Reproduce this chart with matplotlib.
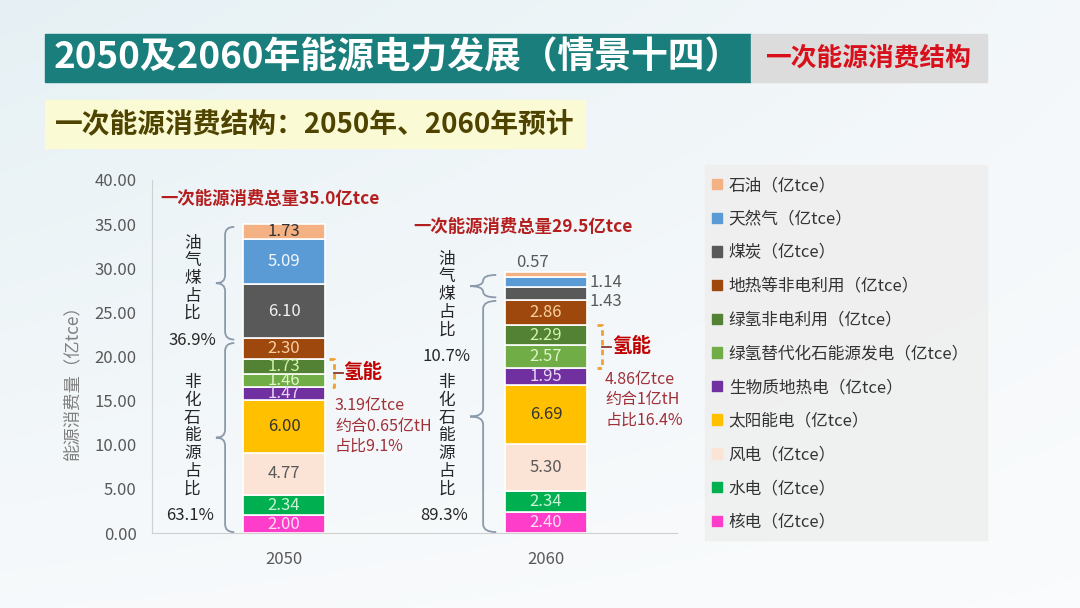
import numpy as np
import matplotlib.pyplot as plt
from matplotlib.patches import Rectangle, Patch, PathPatch
from matplotlib.path import Path

plt.rcParams['font.family'] = ['Noto Sans CJK SC', 'DejaVu Sans']

years = ['2050', '2060']
# stack order, bottom -> top
series = ['核电', '水电', '风电', '太阳能电', '生物质地热电', '绿氢替代化石能源发电',
          '绿氢非电利用', '地热等非电利用', '煤炭', '天然气', '石油']
v2050 = [2.00, 2.34, 4.77, 6.00, 1.47, 1.46, 1.73, 2.30, 6.10, 5.09, 1.73]
v2060 = [2.40, 2.34, 5.30, 6.69, 1.95, 2.57, 2.29, 2.86, 1.43, 1.14, 0.57]
totals = ['35.0', '29.5']
fossil_share = ['36.9%', '10.7%']
nonfossil_share = ['63.1%', '89.3%']
h2_notes = ['3.19亿tce\n约合0.65亿tH\n占比9.1%', '4.86亿tce\n约合1亿tH\n占比16.4%']

colors = ['#FF3DCB', '#00B050', '#FBE3D6', '#FFC000', '#7030A0', '#70AD47',
          '#548235', '#9E480E', '#595959', '#5B9BD5', '#F4B183']
txt_colors = ['#FFE0F5', '#C8F5D5', '#595959', '#333333', '#E8D8F8', '#E0F5C8',
              '#D0F5A8', '#FAD0A0', '#F2F2F2', '#F2F8FF', '#333333']
values = np.array([v2050, v2060])
n_fossil = 3
h2_idx = [5, 6]

fig = plt.figure(figsize=(10.8, 6.08), dpi=100)

# slide background and header boxes (pixel coordinates)
bg = fig.add_axes([0, 0, 1, 1], zorder=-10)
bg.set_xlim(0, 1080)
bg.set_ylim(608, 0)
bg.axis('off')
gy = np.linspace(0, 1, 200)[:, None]
gx = np.linspace(0, 1, 300)[None, :]
grad = 0.55 * (1 - gy) * (1 - 0.6 * gx) + 0.1 * (1 - gx)
top = np.array([0.86, 0.92, 0.94])
bottom = np.array([0.98, 0.985, 0.99])
img = bottom + (top - bottom) * np.clip(grad, 0, 1)[..., None]
bg.imshow(img, extent=(0, 1080, 608, 0), aspect='auto')
bg.add_patch(Rectangle((45, 34), 706, 48, color='#1A7F7C'))
bg.add_patch(Rectangle((751, 34), 236, 48, color='#DCDCDC'))
bg.text(54, 58, '2050及2060年能源电力发展（情景十四）', color='white', fontsize=26.5,
        fontweight='bold', va='center', ha='left')
bg.text(868, 58, '一次能源消费结构', color='#D8101C', fontsize=18.5,
        fontweight='bold', va='center', ha='center')
bg.add_patch(Rectangle((45, 100), 540, 48, color='#FCFBD2', alpha=0.9))
bg.text(55, 124, '一次能源消费结构：2050年、2060年预计', color='#4F4300',
        fontsize=20, fontweight='bold', va='center', ha='left')
bg.add_patch(Rectangle((705, 165), 282, 375, color='#EFEFEF', alpha=0.9))

# chart
ax = fig.add_axes([152 / 1080, 1 - 533 / 608, 525 / 1080, 353 / 608])
ax.set_facecolor('none')
x = np.arange(len(years))
width = 0.313
bottoms = np.zeros(len(years))
for i, name in enumerate(series):
    vals = values[:, i]
    ax.bar(x, vals, width, bottom=bottoms, color=colors[i], edgecolor='white',
           linewidth=1.2, label=name + '（亿tce）')
    for j in range(len(years)):
        v = vals[j]
        yc = bottoms[j] + v / 2
        if v >= 1.45:
            ax.text(x[j], yc, f'{v:.2f}', ha='center', va='center',
                    fontsize=12, color=txt_colors[i])
        elif i == len(series) - 1:
            ax.text(x[j] - 0.05, bottoms[j] + v + 1.1, f'{v:.2f}', ha='center',
                    va='center', fontsize=12, color='#595959')
        else:
            off = -0.9 if i == len(series) - 3 else 0
            ax.text(x[j] + width / 2 + 0.01, yc + off, f'{v:.2f}', ha='left',
                    va='center', fontsize=12, color='#595959')
    bottoms += vals

ax.set_xlim(-0.504, 1.5)
ax.set_ylim(0, 40)
ax.set_xticks(x)
ax.set_xticklabels(years)
ax.set_yticks(np.arange(0, 41, 5))
ax.yaxis.set_major_formatter(plt.FormatStrFormatter('%.2f'))
ax.tick_params(length=0, labelsize=12, colors='#595959')
ax.tick_params(axis='y', pad=11)
ax.tick_params(axis='x', pad=13)
for s in ['top', 'right']:
    ax.spines[s].set_visible(False)
for s in ['left', 'bottom']:
    ax.spines[s].set_color('#D0D0D0')
ax.set_ylabel('能源消费量（亿tce）', fontsize=12.5, color='#808080')
ax.yaxis.set_label_coords(-0.134, 0.44)


def brace(ax, xr, xt, y0, y1, color='#8A9AAB'):
    r = min(0.9, (y1 - y0) / 4)
    xm = (xr + xt) / 2
    ym = (y0 + y1) / 2
    verts = [(xr, y0), (xm, y0), (xm, y0 + r), (xm, ym - r), (xm, ym), (xt, ym),
             (xm, ym), (xm, ym + r), (xm, y1 - r), (xm, y1), (xr, y1)]
    codes = [Path.MOVETO, Path.CURVE3, Path.CURVE3, Path.LINETO, Path.CURVE3,
             Path.CURVE3, Path.CURVE3, Path.CURVE3, Path.LINETO, Path.CURVE3,
             Path.CURVE3]
    ax.add_patch(PathPatch(Path(verts, codes), fill=False, edgecolor=color,
                           lw=1.3, clip_on=False))


cum = values.cumsum(axis=1)
for j in range(len(years)):
    total = cum[j, -1]
    nf = cum[j, -n_fossil - 1]
    xc = x[j]
    ax.text(xc - 0.473 - 0.035 * j, total + 2.9 + 2.2 * j,
            f'一次能源消费总量{totals[j]}亿tce', ha='left', va='center',
            fontsize=12.5, fontweight='bold', color='#B41E1E')
    split = nf - 0.35 if j == 0 else nf + 0.1
    brace(ax, xc - 0.19, xc - 0.26 - 0.03 * j, split + 0.2, total - 0.3)
    brace(ax, xc - 0.19, xc - 0.26 - 0.03 * j, 0.1, split - 0.2)
    tx = xc - 0.35 - 0.03 * j
    fy = (split + total) / 2 + 0.5 - 1.5 * j
    ax.text(tx, fy, '油\n气\n煤\n占\n比', ha='center', va='center', fontsize=12,
            linespacing=1.05, color='#262626')
    ax.text(tx, fy - 7.0, fossil_share[j], ha='center', va='center', fontsize=12,
            color='#262626')
    ax.text(tx, 11.0, '非\n化\n石\n能\n源\n占\n比', ha='center', va='center',
            fontsize=12, linespacing=1.05, color='#262626')
    ax.text(tx - 0.01, 2.0, nonfossil_share[j], ha='center', va='center',
            fontsize=12, color='#262626')

    # hydrogen bracket
    h0 = cum[j, h2_idx[0] - 1]
    h1 = cum[j, h2_idx[-1]]
    bx0 = xc + width / 2 + 0.015 + 0.025 * j
    bx1 = bx0 + 0.018
    ax.plot([bx0, bx1, bx1, bx0], [h1, h1, h0, h0], ls=(0, (2, 1.5)),
            color='#F0A030', lw=2, clip_on=False)
    hm = (h0 + h1) / 2
    ax.plot([bx1, bx1 + 0.035], [hm, hm], color='#8B3A2A', lw=1.3)
    ax.text(bx1 + 0.037, hm, '氢能', ha='left', va='center', fontsize=14,
            fontweight='bold', color='#C00000')
    note_y = h0 - 1.2 if j == 0 else h0 - 0.3
    ax.text(xc + width / 2 + 0.038 + 0.031 * j, note_y, h2_notes[j], ha='left',
            va='top', fontsize=11.5, linespacing=1.25, color='#A03038')

handles = [Patch(color=colors[i], label=series[i] + '（亿tce）')
           for i in range(len(series) - 1, -1, -1)]
fig.legend(handles=handles, loc='upper left', bbox_to_anchor=(697 / 1080, 1 - 162 / 608),
           frameon=False, fontsize=12, labelspacing=1.0, handlelength=0.6,
           handleheight=0.6, handletextpad=0.4, labelcolor='#333333')

fig.savefig('out.png', dpi=100)
